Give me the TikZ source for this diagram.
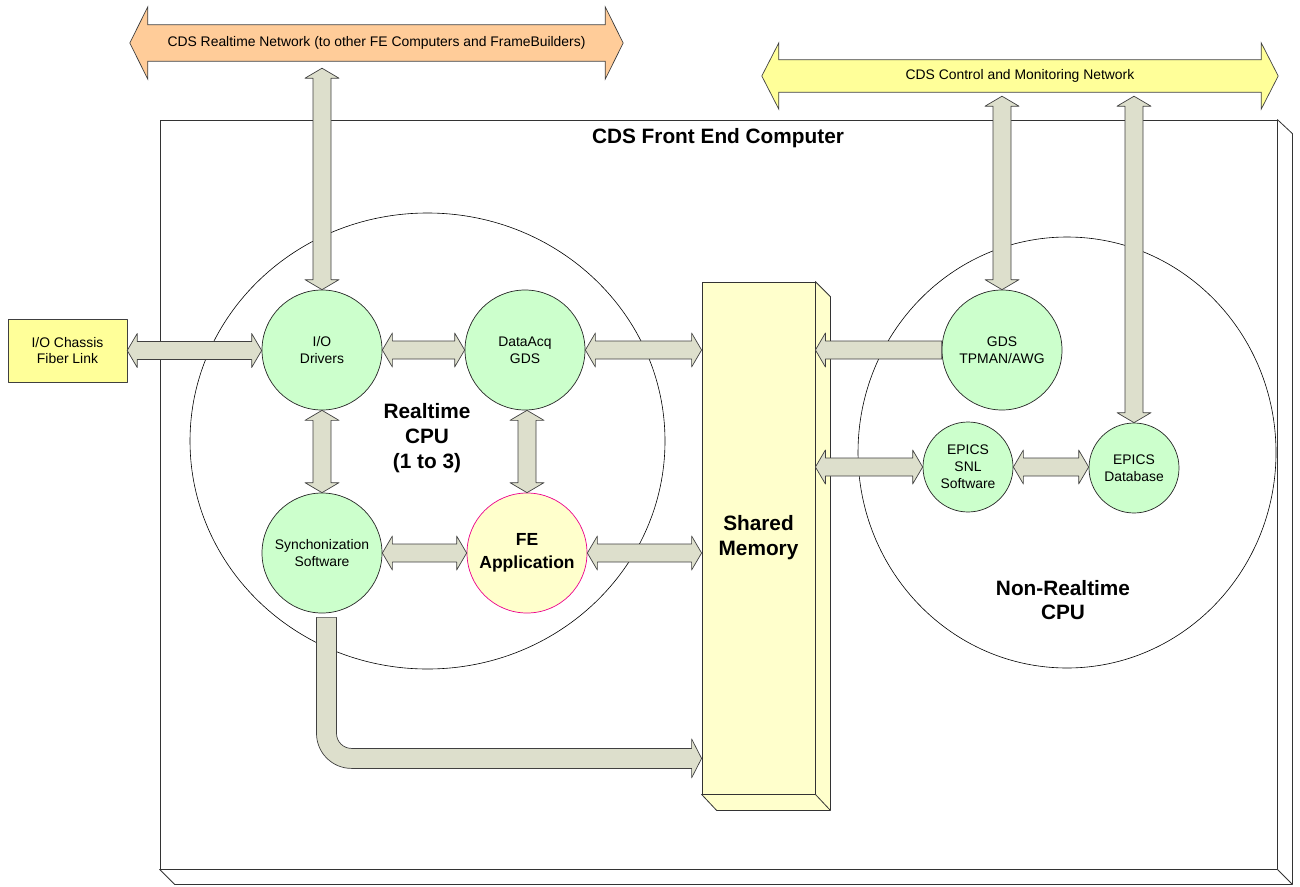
\documentclass[tikz,border=0pt]{standalone}
\usepackage{fontspec}
\setmainfont{Liberation Sans}
\usepackage{tikz}
\usetikzlibrary{calc, positioning, shapes.geometric, backgrounds}

\definecolor{rtnetcol}{RGB}{255,204,153}
\definecolor{cmnetcol}{RGB}{255,255,153}
\definecolor{pipecol}{RGB}{221,223,204}
\definecolor{taskcol}{RGB}{204,255,204}
\definecolor{memcol}{RGB}{255,255,204}
\definecolor{chassiscol}{RGB}{255,255,153}

\newcommand{\lblfont}{\fontsize{13.9}{16.8}\selectfont}
\newcommand{\capfont}{\fontsize{20.8}{24.8}\selectfont\bfseries}
\newcommand{\fefont}{\fontsize{17.5}{23.5}\selectfont\bfseries}

% fat arrow sizes: body half width, head half width, head length
\def\arw{9}\def\arh{17}\def\arl{10}

% double arrow, left tip #1, right tip #2 (at the height of #1)
\newcommand{\fatH}[2]{%
  \filldraw[fatarrow] (#1) -- ++(\arl,-\arh) -- ++(0,\arh-\arw)
    -- ($(#2 |- #1)+(-\arl,-\arw)$) -- ++(0,\arw-\arh) -- (#2 |- #1)
    -- ++(-\arl,\arh) -- ++(0,\arw-\arh) -- ($(#1)+(\arl,\arw)$)
    -- ++(0,\arh-\arw) -- cycle;}
% single arrow pointing left, flat tail #1, tip #2
\newcommand{\fatL}[2]{%
  \filldraw[fatarrow] (#2 |- #1) -- ++(\arl,-\arh) -- ++(0,\arh-\arw)
    -- ($(#1)+(0,-\arw)$) -- ($(#1)+(0,\arw)$) -- ($(#2 |- #1)+(\arl,\arw)$)
    -- ++(0,\arh-\arw) -- cycle;}
% double arrow, top tip #1, bottom tip #2 (at the x of #2)
\newcommand{\fatV}[2]{%
  \filldraw[fatarrow] (#2) -- ++(\arh,-\arl) -- ++(\arw-\arh,0)
    -- ($(#1 -| #2)+(\arw,\arl)$) -- ++(\arh-\arw,0) -- (#1 -| #2)
    -- ++(-\arh,\arl) -- ++(\arh-\arw,0) -- ($(#2)+(-\arw,-\arl)$)
    -- ++(\arw-\arh,0) -- cycle;}

\begin{document}
\begin{tikzpicture}[x=1pt, y=-1pt, line join=round,
  task/.style={circle, draw=black!85, fill=taskcol, line width=0.7pt,
    minimum size=120, inner sep=0pt, align=center, font=\lblfont},
  smalltask/.style={task, minimum size=90},
  caption/.style={align=center, font=\capfont},
  fatarrow/.style={fill=pipecol, draw=black!75, line width=0.7pt},
  edge3d/.style={draw=black!80, line width=0.8pt}]

  \useasboundingbox (0,0) rectangle (1300,886);

  %% --- Front end computer box ---
  \node[edge3d, fill=white, minimum width=1117, minimum height=749,
        inner sep=0pt] (fec) at (718.5,494.5) {};
  \draw[edge3d, fill=white] (fec.north east) -- ++(15,14)
    -- ($(fec.south east)+(15,15)$) -- ($(fec.south west)+(15,15)$)
    -- (fec.south west) -- (fec.south east) -- cycle;
  \draw[edge3d] (fec.south east) -- ++(15,15);
  \node[caption] (fectitle) at (718,138) {CDS Front End Computer};

  %% --- CPUs ---
  \node[draw, ellipse, line width=0.6pt, minimum width=475, minimum height=456,
        inner sep=0pt] (rtcpu) at (427.5,441) {};
  \node[draw, ellipse, line width=0.6pt, minimum width=418, minimum height=431,
        inner sep=0pt] (nrtcpu) at (1067,452.5) {};
  \node[caption] (rtlabel) at (427,438) {Realtime\\CPU\\(1 to 3)};
  \node[caption] (nrtlabel) at (1063,600) {Non-Realtime\\CPU};

  %% --- Shared memory ---
  \node[edge3d, fill=memcol, minimum width=113, minimum height=512,
        inner sep=0pt, caption] (shm) at (758.5,538) {Shared\\Memory};
  \draw[edge3d, fill=memcol] (shm.north east) -- ++(15,15)
    -- ($(shm.south east)+(15,16)$) -- ($(shm.south west)+(15,16)$)
    -- (shm.south west) -- (shm.south east) -- cycle;
  \draw[edge3d] (shm.south east) -- ++(15,16);

  %% --- Tasks ---
  \node[task] (iodrv) at (322,350) {I/O\\Drivers};
  \node[task] (dacq) at (525,350) {DataAcq\\GDS};
  \node[task] (sync) at (322,553) {Synchonization\\Software};
  \node[task, fill=memcol, draw=magenta, font=\fefont] (feapp) at (527,553)
    {FE\\Application};
  \node[task] (gds) at (1002,350) {GDS\\TPMAN/AWG};
  \node[smalltask] (snl) at (968,467) {EPICS\\SNL\\Software};
  \node[smalltask] (epdb) at (1134,468) {EPICS\\Database};

  \node[draw=black!75, fill=chassiscol, minimum width=119, minimum height=63,
        align=center, font=\lblfont] (fiber) at (67.5,350.5)
    {I/O Chassis\\Fiber Link};

  %% --- Networks ---
  \node[minimum width=457, minimum height=36, inner sep=0pt, font=\lblfont]
    (rtnet) at (376.5,43)
    {CDS Realtime Network (to other FE Computers and FrameBuilders)};
  \node[minimum width=482, minimum height=32, inner sep=0pt, font=\lblfont]
    (cmnet) at (1020,76) {CDS Control and Monitoring Network};
  \begin{scope}[on background layer]
    \foreach \net/\col/\hx in {rtnet/rtnetcol/18, cmnet/cmnetcol/17} {
      \draw[fill=\col, draw=black!75, line width=0.7pt]
        (\net.north west) -- (\net.north east) -- ++(0,-\hx)
        -- ($(\net.east)+(\hx,0)$) -- ($(\net.south east)+(0,\hx)$)
        -- (\net.south east) -- (\net.south west) -- ++(0,\hx)
        -- ($(\net.west)+(-\hx,0)$) -- ($(\net.north west)+(0,-\hx)$) -- cycle;
    }
  \end{scope}

  %% --- Connectors ---
  \coordinate (rtdrop) at ($(rtnet.south)+(0,7)$);
  \coordinate (cmdrop) at ($(cmnet.south)+(0,4)$);
  \fatV{rtdrop}{iodrv.north}
  \fatV{cmdrop}{gds.north}
  \fatV{cmdrop}{epdb.north}
  \fatV{iodrv.south}{sync.north}
  \fatV{dacq.south}{feapp.north}

  \fatH{fiber.east}{iodrv.west}
  \fatH{iodrv.east}{dacq.west}
  \fatH{dacq.east}{shm.west}
  \fatH{sync.east}{feapp.west}
  \fatH{feapp.east}{shm.west}
  \coordinate (shmsnl) at (shm.east |- snl.west);
  \fatH{shmsnl}{snl.west}
  \fatH{snl.east}{epdb.west}
  \fatL{gds.west}{shm.east}

  % sync feed into shared memory
  \coordinate (syncout) at ($(sync.south)+(4.5,4)$);
  \coordinate (shmin) at ($(shm.south west)+(0,-36)$);
  \filldraw[fatarrow] ($(syncout)+(-10,0)$) -- ($(syncout |- shmin)+(-10,-25)$)
    arc (180:90:35) -- ($(shmin)+(-10,10)$) -- ++(0,9.5) -- (shmin)
    -- ++(-10,-19.5) -- ++(0,9.5) -- ($(syncout |- shmin)+(25,-10)$)
    arc (90:180:15) -- ($(syncout)+(10,0)$) -- cycle;
\end{tikzpicture}
\end{document}
